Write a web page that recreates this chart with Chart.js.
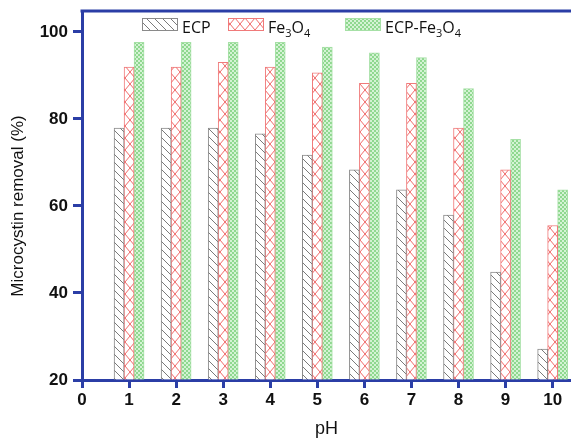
<!DOCTYPE html>
<html>
<head>
<meta charset="utf-8">
<script src="https://cdn.jsdelivr.net/npm/chart.js@4/dist/chart.umd.min.js"></script>
<style>
  html, body { margin: 0; padding: 0; background: #ffffff; }
  #wrap { width: 571px; height: 438px; }
</style>
</head>
<body>
<div id="wrap"><canvas id="chart" width="571" height="438"></canvas></div>
<script>
// Microcystin removal (%) at each pH for the three adsorbents
const phValues = [1, 2, 3, 4, 5, 6, 7, 8, 9, 10];
const ecpRemoval = [77.9, 77.9, 77.9, 76.6, 71.7, 68.3, 63.7, 57.9, 44.8, 27.1];
const fe3o4Removal = [91.9, 91.9, 93.0, 91.9, 90.6, 88.2, 88.2, 77.9, 68.3, 55.5];
const ecpFe3o4Removal = [97.6, 97.6, 97.6, 97.6, 96.5, 95.2, 94.1, 87.0, 75.3, 63.7];
const xTickValues = [0, 1, 2, 3, 4, 5, 6, 7, 8, 9, 10];
const yTickValues = [20, 40, 60, 80, 100];

const AXIS_BLUE = '#2b3ea6';
const canvas = document.getElementById('chart');
const ctx = canvas.getContext('2d');

// Fill patterns for the bars
function makeTile(w, h, draw) {
  const c = document.createElement('canvas');
  c.width = w; c.height = h;
  draw(c.getContext('2d'));
  return ctx.createPattern(c, 'repeat');
}
const hatchGray = makeTile(8, 8, g => {
  g.fillStyle = '#ffffff'; g.fillRect(0, 0, 8, 8);
  g.strokeStyle = '#7a7a7a'; g.lineWidth = 1;
  g.beginPath();
  g.moveTo(-1, -1); g.lineTo(9, 9);
  g.moveTo(-1, 7); g.lineTo(1, 9);
  g.moveTo(7, -1); g.lineTo(9, 1);
  g.stroke();
});
const crossRed = makeTile(10, 12, g => {
  g.fillStyle = '#ffffff'; g.fillRect(0, 0, 10, 12);
  g.strokeStyle = '#f06a6a'; g.lineWidth = 1;
  g.beginPath();
  g.moveTo(0, 0); g.lineTo(10, 12);
  g.moveTo(10, 0); g.lineTo(0, 12);
  g.stroke();
});
const checkGreen = makeTile(4, 4, g => {
  g.fillStyle = '#d4f3d4'; g.fillRect(0, 0, 4, 4);
  g.fillStyle = '#8fd88f';
  g.fillRect(0, 0, 2, 2);
  g.fillRect(2, 2, 2, 2);
});

const series = [
  { label: 'ECP', values: ecpRemoval, fill: hatchGray, border: '#8a8a8a',
    parts: [['ECP', false]] },
  { label: 'Fe3O4', values: fe3o4Removal, fill: crossRed, border: '#f07a7a',
    parts: [['Fe', false], ['3', true], ['O', false], ['4', true]] },
  { label: 'ECP-Fe3O4', values: ecpFe3o4Removal, fill: checkGreen, border: '#a6e0a6',
    parts: [['ECP-Fe', false], ['3', true], ['O', false], ['4', true]] }
];

// Legend with subscripted formulas, laid out inside the top of the plot
const legendPlugin = {
  id: 'formulaLegend',
  afterDraw(chart) {
    const c = chart.ctx;
    const boxes = [142, 228, 345];
    const boxW = 36, boxY = 18, boxH = 13;
    c.save();
    series.forEach((s, i) => {
      const x = boxes[i];
      c.fillStyle = s.fill;
      c.fillRect(x, boxY, boxW, boxH);
      c.strokeStyle = s.border;
      c.lineWidth = 1;
      c.strokeRect(x + 0.5, boxY + 0.5, boxW - 1, boxH - 1);
      let tx = x + boxW + 4;
      c.fillStyle = '#111111';
      c.textBaseline = 'alphabetic';
      c.textAlign = 'left';
      s.parts.forEach(([txt, sub]) => {
        c.font = sub ? '11px "Open Sans"' : '16px "Open Sans"';
        c.fillText(txt, tx, sub ? 37 : 33);
        tx += c.measureText(txt).width;
      });
    });
    c.restore();
  }
};

// Frame line along the top and the rotated value-axis title
const framePlugin = {
  id: 'frame',
  afterDraw(chart) {
    const { left, right, top } = chart.chartArea;
    const c = chart.ctx;
    c.save();
    c.strokeStyle = AXIS_BLUE;
    c.lineWidth = 3;
    c.beginPath();
    c.moveTo(left - 1.5, top);
    c.lineTo(right, top);
    c.stroke();
    c.translate(18, 206);
    c.rotate(-Math.PI / 2);
    c.fillStyle = '#111111';
    c.font = '17px "Liberation Sans"';
    c.textAlign = 'center';
    c.textBaseline = 'middle';
    c.fillText('Microcystin removal (%)', 0, 0);
    c.restore();
  }
};

new Chart(ctx, {
  type: 'bar',
  data: {
    datasets: series.map(s => ({
      label: s.label,
      data: phValues.map((x, i) => ({ x: x, y: s.values[i] })),
      backgroundColor: s.fill,
      borderColor: s.border,
      borderWidth: 1,
      borderSkipped: 'start',
      barThickness: 10,
      base: 20
    }))
  },
  options: {
    responsive: false,
    animation: false,
    devicePixelRatio: 1,
    layout: { padding: { top: 11, right: 0, left: 0, bottom: 0 } },
    plugins: {
      legend: { display: false },
      tooltip: { enabled: false }
    },
    scales: {
      x: {
        type: 'linear',
        min: 0,
        max: 10.39,
        offset: false,
        afterBuildTicks: scale => { scale.ticks = xTickValues.map(v => ({ value: v })); },
        afterFit: scale => {
          scale.height = 58;
          scale.paddingLeft = 0;
          scale.paddingRight = 0;
        },
        border: { color: AXIS_BLUE, width: 3 },
        grid: { offset: false, drawOnChartArea: false, drawTicks: true, tickLength: 8, tickColor: AXIS_BLUE, tickWidth: 3 },
        ticks: {
          padding: 2,
          color: '#111111',
          font: { family: 'Liberation Sans', size: 17, weight: 'bold' },
          maxRotation: 0,
          autoSkip: false
        },
        title: {
          display: true,
          text: 'pH',
          color: '#111111',
          font: { family: 'Liberation Sans', size: 18, lineHeight: 1 },
          padding: { top: 0, bottom: 0 }
        }
      },
      y: {
        min: 20,
        max: 104.8,
        afterBuildTicks: scale => { scale.ticks = yTickValues.map(v => ({ value: v })); },
        afterFit: scale => {
          scale.width = 82;
          scale.paddingTop = 0;
          scale.paddingBottom = 0;
        },
        border: { color: AXIS_BLUE, width: 3 },
        grid: { drawOnChartArea: false, drawTicks: true, tickLength: 9, tickColor: AXIS_BLUE, tickWidth: 3 },
        ticks: {
          padding: 5,
          color: '#111111',
          font: { family: 'Liberation Sans', size: 17, weight: 'bold' }
        }
      }
    }
  },
  plugins: [legendPlugin, framePlugin]
});
</script>
</body>
</html>
